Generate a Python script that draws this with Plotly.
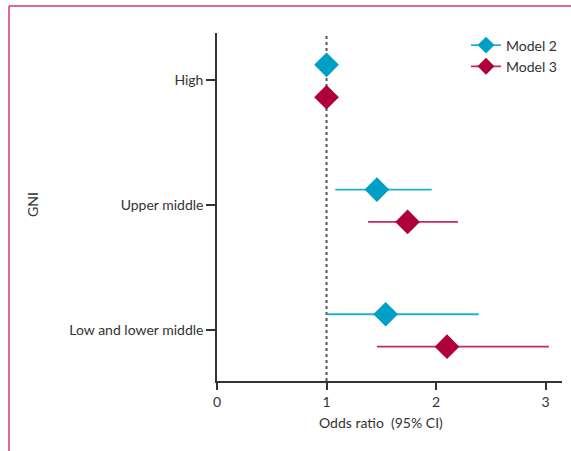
import plotly.graph_objects as go

categories = ["High", "Upper middle", "Low and lower middle"]
model2_or = [1.0, 1.46, 1.54]
model2_lo = [1.0, 1.08, 1.00]
model2_hi = [1.0, 1.96, 2.39]
model3_or = [1.0, 1.74, 2.10]
model3_lo = [1.0, 1.38, 1.46]
model3_hi = [1.0, 2.20, 3.03]
x_ticks = [0, 1, 2, 3]

c2_mark, c2_line = "#00A0C6", "#22B0D2"
c3_mark, c3_line = "#B0003A", "#C42A55"
font_family = "Lato, 'Open Sans', sans-serif"

idx = list(range(len(categories)))
y2 = [i - 0.125 for i in idx]
y3 = [i + 0.135 for i in idx]

fig = go.Figure()
for name, orv, lo, hi, ys, cm, cl in [
    ("Model 2", model2_or, model2_lo, model2_hi, y2, c2_mark, c2_line),
    ("Model 3", model3_or, model3_lo, model3_hi, y3, c3_mark, c3_line),
]:
    fig.add_trace(go.Scatter(
        x=orv, y=ys, mode="markers", showlegend=False,
        marker=dict(symbol="diamond", size=19, color=cm),
        error_x=dict(type="data", symmetric=False,
                     array=[h - o for h, o in zip(hi, orv)],
                     arrayminus=[o - l for o, l in zip(orv, lo)],
                     color=cl, thickness=1.8, width=0),
    ))
    fig.add_trace(go.Scatter(
        x=[None], y=[None], mode="lines+markers", name=name,
        line=dict(color=cl, width=1.8),
        marker=dict(symbol="diamond", size=13, color=cm),
    ))

fig.add_shape(type="line", xref="x", yref="paper", x0=1, x1=1, y0=0, y1=1,
              line=dict(color="#555555", width=2, dash="3px,3px"), layer="below")

border = "#D9386B"
fig.add_shape(type="line", xref="paper", yref="paper",
              x0=(9 - 217) / 345, x1=(575 - 217) / 345,
              y0=(381 - 6) / 348, y1=(381 - 6) / 348,
              line=dict(color=border, width=1.5))
fig.add_shape(type="line", xref="paper", yref="paper",
              x0=(9 - 217) / 345, x1=(9 - 217) / 345,
              y0=(381 - 6) / 348, y1=(381 - 460) / 348,
              line=dict(color=border, width=1.5))

fig.add_annotation(text="GNI", xref="paper", yref="paper",
                   x=(33 - 217) / 345, y=(381 - 205) / 348, textangle=-90,
                   xanchor="center", yanchor="middle",
                   showarrow=False, font=dict(size=14, color="#333333", family=font_family))
fig.add_annotation(text="Odds ratio  (95% CI)", xref="x", yref="paper",
                   x=1.5, y=(381 - 423) / 348, xanchor="center", yanchor="middle",
                   showarrow=False,
                   font=dict(size=14, color="#333333", family=font_family))

fig.update_layout(
    width=571, height=451,
    margin=dict(l=217, r=9, t=33, b=70),
    plot_bgcolor="white", paper_bgcolor="white",
    font=dict(family=font_family, size=14, color="#333333"),
    xaxis=dict(range=[0, 3.15], tickvals=x_ticks, showgrid=False, zeroline=False,
               showline=True, linecolor="#333333", linewidth=1.5,
               ticks="outside", ticklen=7, tickwidth=1.5, tickcolor="#333333"),
    yaxis=dict(range=[2.41, -0.38], tickvals=idx, ticktext=categories,
               showgrid=False, zeroline=False,
               showline=True, linecolor="#333333", linewidth=1.5,
               ticks="outside", ticklen=9, tickwidth=1.5, tickcolor="#333333"),
    legend=dict(x=1, y=1.01, xanchor="right", yanchor="top",
                bgcolor="rgba(0,0,0,0)", font=dict(size=14),
                tracegroupgap=0, itemsizing="trace"),
)

fig.write_html("out.html", config={"displayModeBar": False},
               post_script="document.body.style.margin='0';")
